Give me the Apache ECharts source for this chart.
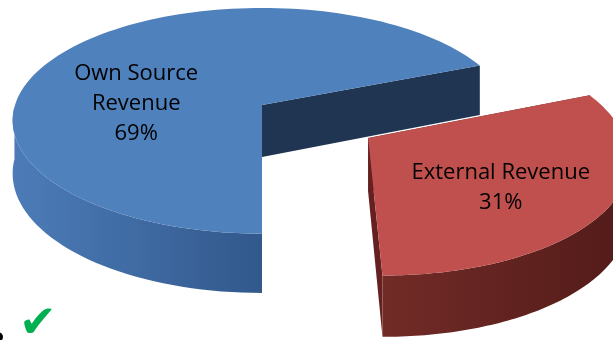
<!DOCTYPE html>
<html>
<head>
<meta charset="utf-8">
<style>
    html, body { margin: 0; padding: 0; background: #fff; }
    #chart { width: 613px; height: 340px; }
</style>
</head>
<body>
<div id="chart"></div>
<script src="https://cdn.jsdelivr.net/npm/echarts@6/dist/echarts.min.js"></script>
<script>
// data
var categories = ['Own Source Revenue', 'External Revenue'];
var labelLines = [['Own Source', 'Revenue'], ['External Revenue']];
var shares = [69, 31];
var explode = [0, 0.5];

// look of the fake 3d pie
var CX = 262, CY = 105, R = 247, TILT = 0.457, DEPTH = 52, PERSP = 0.14;
var palette = [
    { top: '#4f81bd', radial: '#1f3552', wallL: 'rgb(76,124,184)', wallR: 'rgb(50,88,140)' },
    { top: '#c0504d', radial: '#662020', wallL: 'rgb(114,43,39)', wallR: 'rgb(82,27,25)' }
];
// label anchor, relative to slice centre, in radius units
var labelAnchor = [[-0.51, -0.01], [0.47, 0.39]];

var total = shares.reduce(function (a, b) { return a + b; }, 0);

function rad(d) { return d * Math.PI / 180; }

// plan coords (px right, py toward viewer) -> screen, z: 0 top, 1 bottom
function proj(px, py, z) {
    var s = 1 + PERSP * py;
    return [CX + px * R * s, CY + (py * R * TILT + z * DEPTH) * s];
}

function poly(points, fill) {
    return {
        type: 'polygon',
        shape: { points: points },
        style: { fill: fill, stroke: null }
    };
}

function renderItem(params, api) {
    var i = params.dataIndex;
    var before = 0;
    for (var k = 0; k < i; k++) before += shares[k];
    var a0 = 270 - 360 * before / total;
    var a1 = a0 - 360 * api.value(1) / total;
    var mid = (a0 + a1) / 2;
    var ox = explode[i] * Math.cos(rad(mid));
    var oy = -explode[i] * Math.sin(rad(mid));
    var pal = palette[i];

    function pt(a, r, z) {
        return proj(ox + r * Math.cos(rad(a)), oy - r * Math.sin(rad(a)), z);
    }

    var steps = 120, angles = [];
    for (var j = 0; j <= steps; j++) angles.push(a0 + (a1 - a0) * j / steps);

    var children = [];
    // radial walls
    [a0, a1].forEach(function (a) {
        children.push(poly([pt(a, 0, 0), pt(a, 1, 0), pt(a, 1, 1), pt(a, 0, 1)], pal.radial));
    });
    // outer wall, front half only (angles 180..360)
    var front = angles.filter(function (a) { return Math.sin(rad(a)) <= 0.0001; });
    if (front.length > 1) {
        var upper = front.map(function (a) { return pt(a, 1, 0); });
        var lower = front.map(function (a) { return pt(a, 1, 1); }).reverse();
        var xs = upper.map(function (p) { return p[0]; });
        var x0 = Math.min.apply(null, xs), x1 = Math.max.apply(null, xs);
        var wall = poly(upper.concat(lower), {
            type: 'linear', x: x0, y: 0, x2: x1, y2: 0, global: true,
            colorStops: [{ offset: 0, color: pal.wallL }, { offset: 1, color: pal.wallR }]
        });
        children.push(wall);
    }
    // top face
    var top = [proj(ox, oy, 0)];
    angles.forEach(function (a) { top.push(pt(a, 1, 0)); });
    children.push(poly(top, pal.top));

    // label
    var lp = proj(ox + labelAnchor[i][0], oy + labelAnchor[i][1], 0);
    children.push({
        type: 'text',
        x: lp[0],
        y: lp[1],
        style: {
            text: labelLines[i].concat([api.value(1) + '%']).join('\n'),
            fill: '#000',
            font: '22px "Open Sans"',
            lineHeight: 30,
            align: 'center',
            verticalAlign: 'middle'
        }
    });

    return { type: 'group', children: children };
}

var chart = echarts.init(document.getElementById('chart'));
chart.setOption({
    backgroundColor: '#fff',
    animation: false,
    series: [{
        type: 'custom',
        coordinateSystem: 'none',
        renderItem: renderItem,
        data: shares.map(function (v, i) { return { name: categories[i], value: [i, v] }; })
    }],
    graphic: [
        { type: 'text', left: 19, top: 303, style: { text: '\u2714', fill: '#00b050', font: '45px "DejaVu Sans"' } },
        { type: 'circle', shape: { cx: -2, cy: 337, r: 5 }, style: { fill: '#000' } }
    ]
});
</script>
</body>
</html>
